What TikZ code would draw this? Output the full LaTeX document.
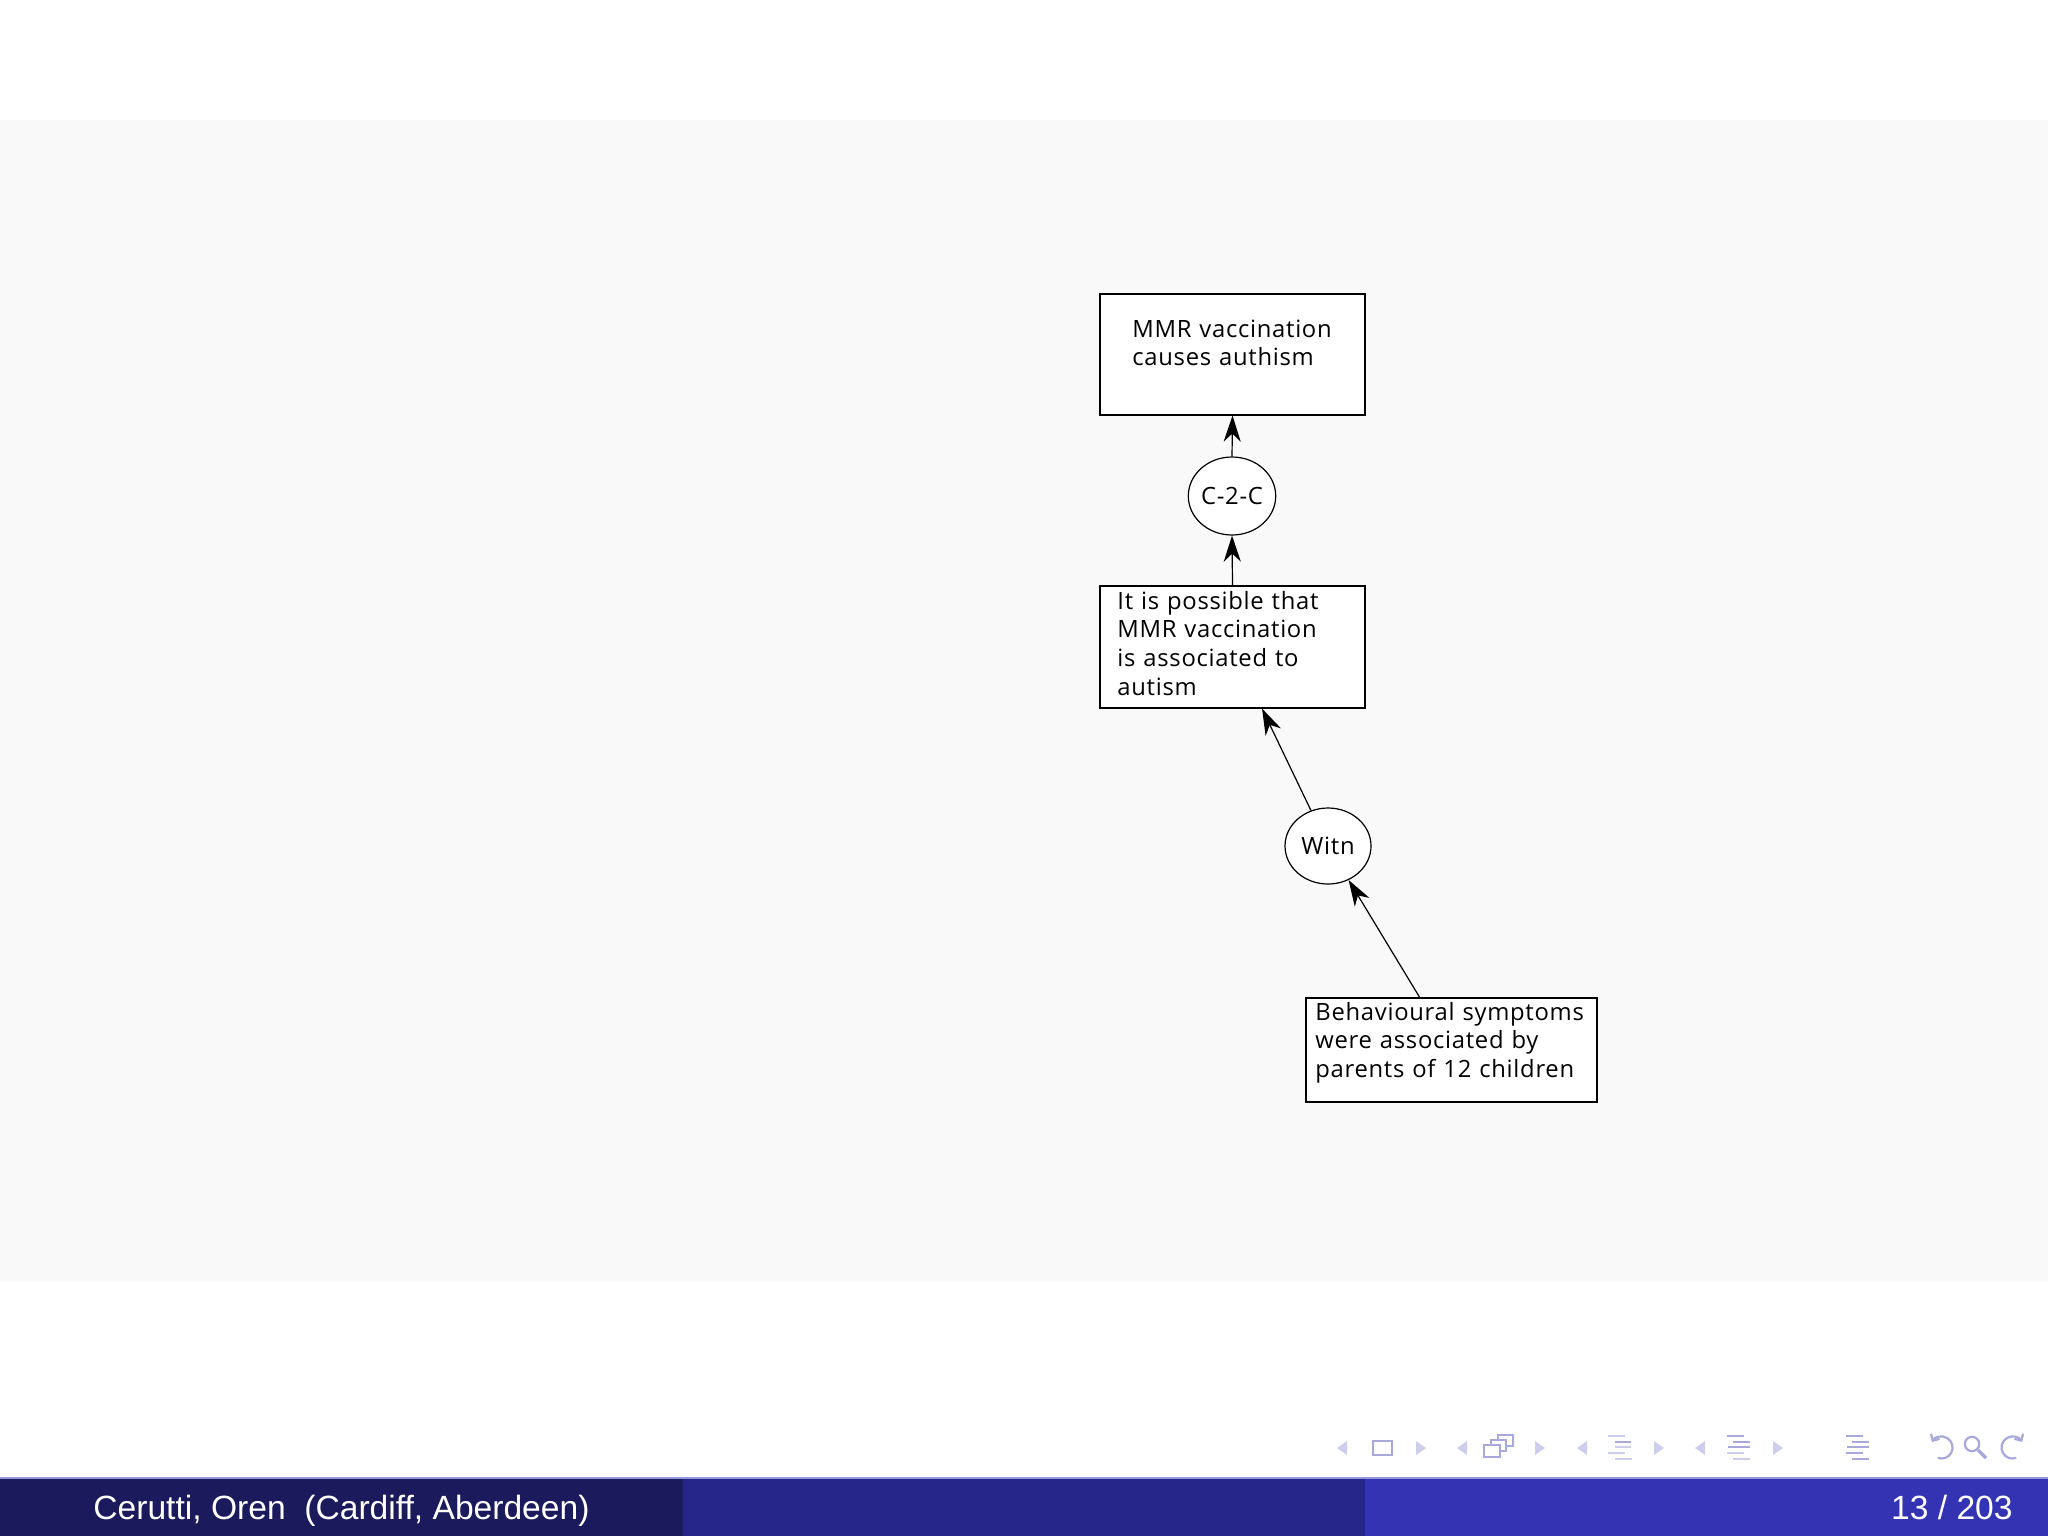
\documentclass[tikz,border=0pt]{standalone}
\usepackage{fontspec}
\setmainfont{Open Sans}[LetterSpace=3]
\newfontfamily\footfont{Liberation Sans}
\newfontfamily\symfont{DejaVu Sans}
\usetikzlibrary{arrows.meta,shapes.geometric}
\definecolor{bggray}{RGB}{249,249,249}
\definecolor{footA}{RGB}{27,26,92}
\definecolor{footB}{RGB}{38,37,137}
\definecolor{footC}{RGB}{51,51,179}
\definecolor{navcol}{RGB}{205,205,236}
\definecolor{navdark}{RGB}{168,168,220}
\definecolor{footline}{RGB}{150,150,220}
\begin{document}
\begin{tikzpicture}[x=0.5pt,y=-0.5pt,
  boxnode/.style={draw, fill=white, line width=0.6pt, rectangle, inner sep=0pt},
  ellnode/.style={draw, fill=white, line width=0.6pt, ellipse, inner sep=0pt, minimum width=43pt, minimum height=39pt, font=\fontsize{11.9}{14.35}\selectfont},
  txt/.style={anchor=base west, inner sep=0pt, align=left, text width=160pt, font=\fontsize{11.9}{14.35}\selectfont},
  arr/.style={line width=0.6pt, -{Stealth[length=13pt,width=8.5pt,inset=4pt]}},
  tri/.style={fill=navcol, draw=none},
  navline/.style={draw=navdark, line width=1pt}
]
\useasboundingbox (0,0) rectangle (2048,1536);
\fill[white] (0,0) rectangle (2048,1536);
\fill[bggray] (0,120) rectangle (2048,1281);

% boxes
\node[boxnode, minimum width=132.5pt, minimum height=60.5pt] (box1) at (1232.5,354.5) {};
\node[ellnode] (ell1) at (1232,496) {C-2-C};
\node[boxnode, minimum width=132.5pt, minimum height=61pt] (box2) at (1232.5,647) {};
\node[ellnode, minimum height=38pt] (ell2) at (1328,846) {Witn};
\node[boxnode, minimum width=145.5pt, minimum height=52pt] (box3) at (1451.5,1050) {};

\node[txt] (t1) at (1132,337) {MMR vaccination\\causes authism};
\node[txt] (t2) at (1117,609) {It is possible that\\MMR vaccination\\is associated to\\autism};
\node[txt] (t3) at (1315,1020) {Behavioural symptoms\\were associated by\\parents of 12 children};

\draw[arr] (box2.north) -- (ell1.south);
\draw[arr] (ell1.north) -- (box1.south);
\draw[arr] (ell2) -- (box2);
\draw[arr] (box3) -- (ell2);

% footer
\fill[footA] (0,1478) rectangle (683,1536);
\fill[footB] (683,1478) rectangle (1365,1536);
\fill[footC] (1365,1478) rectangle (2048,1536);
\draw[footline, line width=1pt] (0,1478) -- (2048,1478);
\node[anchor=base west, inner sep=0pt, text=white, font=\footfont\fontsize{16.8}{20}\selectfont] (author) at (93,1519) {Cerutti, Oren\ \ (Cardiff, Aberdeen)};
\node[anchor=base east, inner sep=0pt, text=white, font=\footfont\fontsize{16.8}{20}\selectfont] (page) at (2013,1519) {13 / 203};

% navigation symbols
\foreach \x in {1342,1462,1582,1700} {\fill[tri] (\x-5,1448) -- (\x+5,1441) -- (\x+5,1455) -- cycle;}
\foreach \x in {1421,1540,1659,1778} {\fill[tri] (\x+5,1448) -- (\x-5,1441) -- (\x-5,1455) -- cycle;}
\draw[navline] (1373,1441) rectangle (1392,1455);
% stacked frames
\draw[navline, fill=white] (1498,1435) rectangle (1513,1446);
\draw[navline, fill=white] (1491,1440) rectangle (1506,1451);
\draw[navline, fill=white] (1484,1445) rectangle (1500,1457);
% list icons
\draw[navcol, line width=1.2pt] (1608,1436) -- (1625,1436);
\draw[navdark, line width=1.2pt] (1615,1442) -- (1631,1442);
\draw[navcol, line width=1.2pt] (1615,1447) -- (1631,1447);
\draw[navcol, line width=1.2pt] (1608,1453) -- (1625,1453);
\draw[navcol, line width=1.2pt] (1615,1459) -- (1632,1459);
\draw[navdark, line width=1.2pt] (1727,1436) -- (1744,1436);
\draw[navdark, line width=1.2pt] (1733,1442) -- (1750,1442);
\draw[navdark, line width=1.2pt] (1728,1447) -- (1750,1447);
\draw[navcol, line width=1.2pt] (1727,1453) -- (1744,1453);
\draw[navcol, line width=1.2pt] (1733,1459) -- (1750,1459);
\draw[navdark, line width=1.2pt] (1846,1436) -- (1863,1436);
\draw[navdark, line width=1.2pt] (1852,1442) -- (1869,1442);
\draw[navdark, line width=1.2pt] (1847,1447) -- (1869,1447);
\draw[navdark, line width=1.2pt] (1846,1453) -- (1863,1453);
\draw[navdark, line width=1.2pt] (1852,1459) -- (1869,1459);
% back, search, forward
\draw[navline, line width=1.1pt, {Straight Barb[length=2.5pt,width=5pt]}-] (1932,1442) arc[start angle=150, end angle=-110, radius=5.5pt];
\draw[navline, line width=1.1pt] (1972,1444) circle[radius=3.6pt];
\draw[navline, line width=1.6pt] (1978,1450) -- (1986,1458);
\draw[navline, line width=1.1pt, {Straight Barb[length=2.5pt,width=5pt]}-] (2022,1442) arc[start angle=30, end angle=290, radius=5.5pt];
\end{tikzpicture}
\end{document}
